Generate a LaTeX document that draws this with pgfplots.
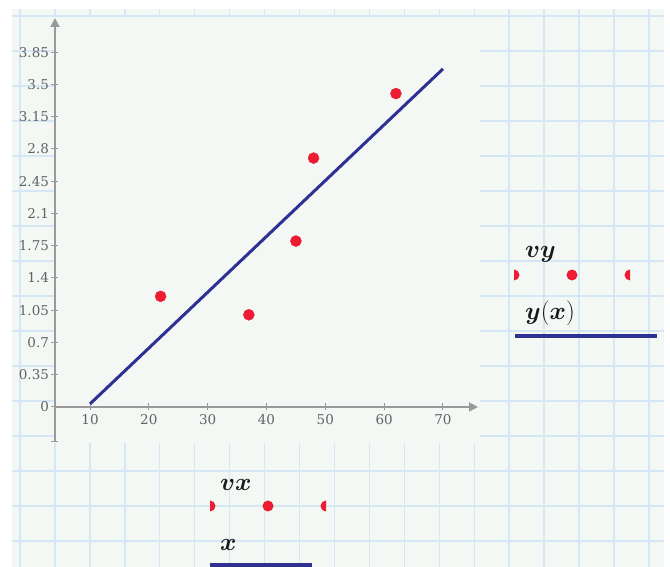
\documentclass[border=0pt]{standalone}
\usepackage{pgfplots}
\pgfplotsset{compat=1.18}
\usepackage{fontspec}
\usepackage{bm}
\usetikzlibrary{arrows.meta}
\newfontfamily\tickfont{DejaVu Serif}
\definecolor{paper}{HTML}{F3F8F5}
\definecolor{gridblue}{HTML}{D5E7F5}
\definecolor{axisgrey}{HTML}{9A9A9A}
\definecolor{labelgrey}{HTML}{626262}
\definecolor{navy}{HTML}{2E3192}
\definecolor{dotred}{HTML}{EE1C33}
\begin{document}
\begin{tikzpicture}
\useasboundingbox (0,0) rectangle (670pt,567pt);
\begin{scope}[x=1pt,y=1pt]
\clip (0,0) rectangle (670,567);
\fill[white] (0,0) rectangle (670,567);
\fill[paper] (12,0) rectangle (664,558);
\foreach \i in {0,...,18} \draw[gridblue, line width=1.4pt] ({20+34.94*\i},0) -- ({20+34.94*\i},558);
\foreach \j in {0,...,15} \draw[gridblue, line width=1.4pt] (12,{567-16-35*\j}) -- (664,{567-16-35*\j});
\fill[paper] (54,124) rectangle (480,550);
\end{scope}
\begin{axis}[
 at={(55pt,125pt)}, anchor=south west, scale only axis,
 width=423pt, height=424pt,
 xmin=4.05, xmax=75.95, ymin=-0.38, ymax=4.22,
 axis x line=middle, axis y line=left,
 axis line style={draw=axisgrey, line width=1.8pt},
 every inner x axis line/.append style={-{Triangle[length=9pt,width=9pt]}},
 every outer y axis line/.append style={-{Triangle[length=9pt,width=9pt]}},
 xtick={10,20,...,70}, xticklabels={10,20,30,40,50,60,70},
 ytick={0,0.35,0.7,1.05,1.4,1.75,2.1,2.45,2.8,3.15,3.5,3.85},
 yticklabels={0,0.35,0.7,1.05,1.4,1.75,2.1,2.45,2.8,3.15,3.5,3.85},
 extra y ticks={-0.38}, extra y tick labels={},
 tick align=center, major tick length=7pt,
 tick style={draw=axisgrey, line width=1pt},
 tick label style={font=\tickfont\fontsize{13.5}{15}\selectfont, text=labelgrey},
 yticklabel style={xshift=1pt},
 clip=false,
]
\addplot[navy, line width=3pt] coordinates {(10,0.033) (70,3.668)};
\addplot[only marks, mark=*, mark size=5.5pt, color=dotred, mark options={draw=dotred, fill=dotred}] coordinates {(22,1.2) (37,1.0) (45,1.8) (48,2.7) (62,3.4)};
\end{axis}
\begin{scope}[x=1pt,y=1pt]
\clip (0,0) rectangle (670,567);
\node[anchor=base west, inner sep=0, text=black!90] at (220,76) {\fontsize{23}{27}\selectfont$\bm{vx}$};
\node[anchor=base west, inner sep=0, text=black!90] at (220,16) {\fontsize{23}{27}\selectfont$\bm{x}$};
\node[anchor=base west, inner sep=0, text=black!90] at (525,309) {\fontsize{23}{27}\selectfont$\bm{vy}$};
\node[anchor=base west, inner sep=0, text=black!90] at (525,247) {\fontsize{23}{27}\selectfont$\bm{y}\bigl(\bm{x}\bigr)$};
\begin{scope}
\clip (210,0) rectangle (326,567);
\fill[dotred] (210,61) circle (5.5);
\fill[dotred] (268,61) circle (5.5);
\fill[dotred] (326,61) circle (5.5);
\end{scope}
\begin{scope}
\clip (514,0) rectangle (630,567);
\fill[dotred] (514,292) circle (5.5);
\fill[dotred] (572,292) circle (5.5);
\fill[dotred] (630,292) circle (5.5);
\end{scope}
\draw[navy, line width=4pt] (515,231) -- (657,231);
\draw[navy, line width=4pt] (210,2) -- (312,2);
\end{scope}
\end{tikzpicture}
\end{document}
